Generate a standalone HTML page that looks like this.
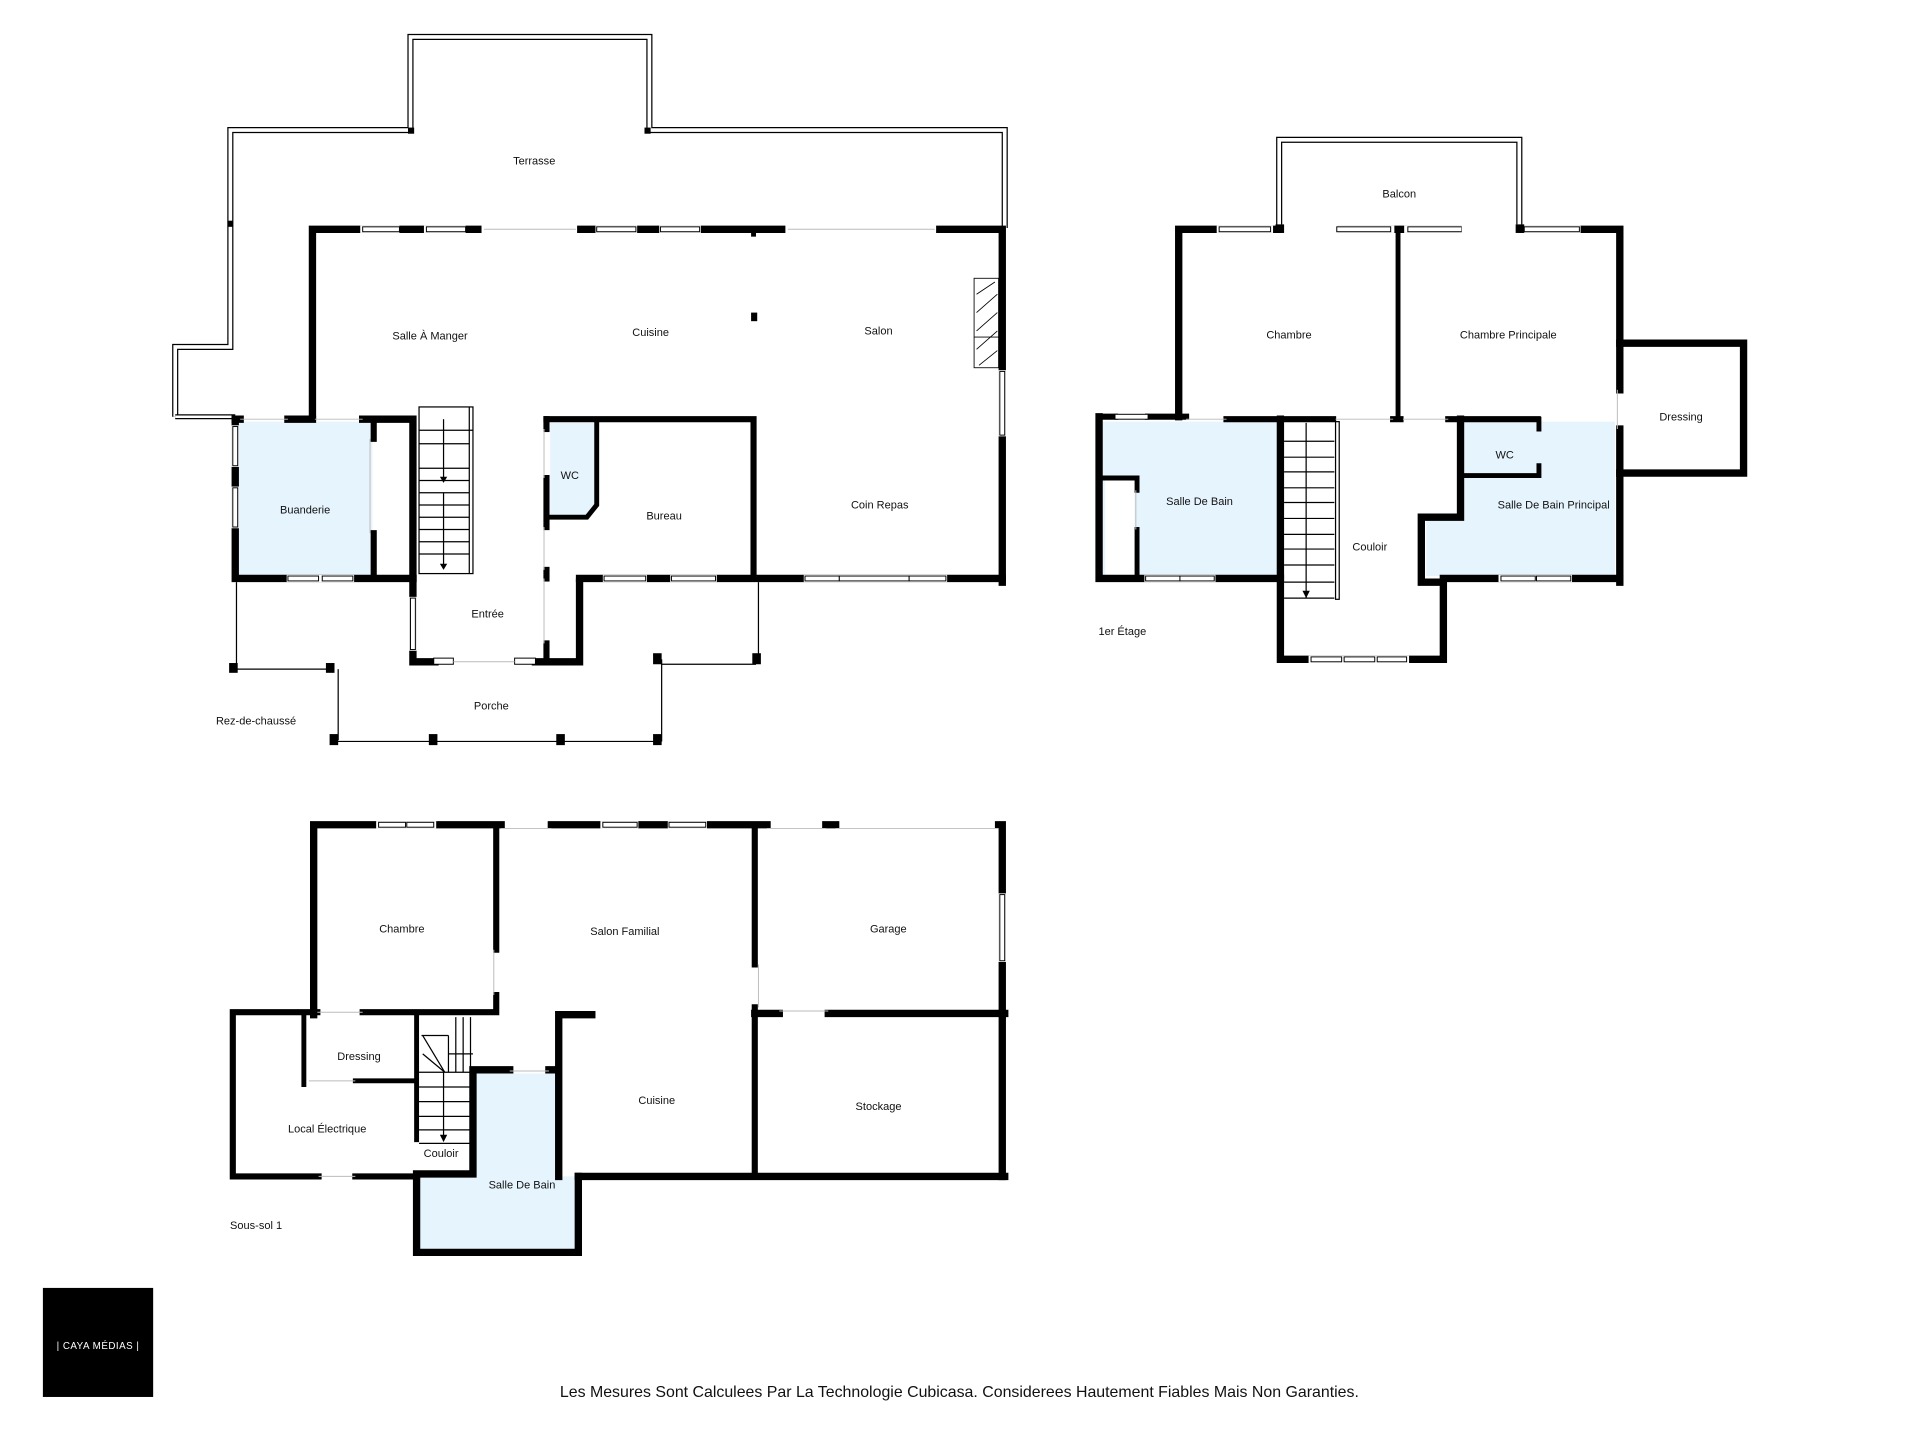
<!DOCTYPE html>
<html><head><meta charset="utf-8"><style>
html,body{margin:0;padding:0;background:#fff;}
svg{display:block;}
text{font-family:"Liberation Sans",sans-serif;font-size:9px;fill:#111;text-anchor:middle;}
.W{stroke:#000;stroke-width:6;stroke-linecap:square;fill:none;}
.T{stroke:#000;stroke-width:1;fill:none;}
.G{stroke:#bbb;stroke-width:0.8;fill:none;}
.win{fill:#fff;stroke:#000;stroke-width:0.8;}
.blue{fill:#e6f4fd;}
</style></head><body>
<svg width="1920" height="1440" viewBox="0 0 1567 1175" xmlns="http://www.w3.org/2000/svg">
<rect width="1567" height="1175" fill="#fff"/>

<path d="M143,340 V283 H188 V106 H335 V30 H530 V106 H820 V186" stroke="#000" stroke-width="5" fill="none"/>
<path d="M143,340 V283 H188 V106 H335 V30 H530 V106 H820 V186" stroke="#fff" stroke-width="3" fill="none"/>
<line x1="143" y1="340" x2="192" y2="340" stroke="#000" stroke-width="4"/>
<line x1="143" y1="340" x2="192" y2="340" stroke="#fff" stroke-width="2"/>
<rect x="333" y="104" width="5" height="5"/><rect x="526" y="104" width="5" height="5"/><rect x="186" y="180" width="4" height="5"/>

<rect class="blue" x="195" y="344" width="109" height="126"/>
<path class="blue" d="M449,345 H485 V412 L477,422 H449 Z"/>

<path class="W" d="M255,340 V187 H818 V475"/>
<rect x="294" y="184" width="32" height="6" fill="#fff"/><rect class="win" x="296" y="185" width="30" height="4"/>
<rect x="346" y="184" width="34" height="6" fill="#fff"/><rect class="win" x="348" y="185" width="32" height="4"/>
<rect x="393" y="183" width="78" height="8" fill="#fff"/><line class="G" x1="395" y1="187" x2="470" y2="187"/>
<rect x="486" y="184" width="34" height="6" fill="#fff"/><rect class="win" x="487" y="185" width="32" height="4"/>
<rect x="538" y="184" width="34" height="6" fill="#fff"/><rect class="win" x="539" y="185" width="32" height="4"/>
<rect x="641" y="183" width="123" height="8" fill="#fff"/><line class="G" x1="643" y1="187" x2="763" y2="187"/>
<rect x="613" y="188" width="4" height="5"/><rect x="613" y="255" width="5" height="7"/>
<rect x="815" y="302" width="6" height="54" fill="#fff"/><rect class="win" x="816" y="303" width="4" height="52"/>
<g stroke="#000" stroke-width="0.7" fill="#fff"><rect x="795" y="227" width="20" height="73"/>
<path d="M797,240 L812,230 M797,255 L814,240 M797,270 L814,255 M797,285 L814,270 M799,298 L814,286"/>
<line x1="795" y1="275" x2="815" y2="275"/></g>

<path class="W" d="M192,342 V472 H337"/>
<path class="W" d="M192,342 H196 M235,342 H255 M296,342 H337 V472"/>
<line class="G" x1="196" y1="342" x2="235" y2="342"/><line class="G" x1="257" y1="342" x2="296" y2="342"/>
<rect x="189" y="347" width="6" height="34" fill="#fff"/><rect class="win" x="190" y="348" width="4" height="32"/>
<rect x="189" y="397" width="6" height="34" fill="#fff"/><rect class="win" x="190" y="398" width="4" height="32"/>
<rect x="234" y="469" width="28" height="6" fill="#fff"/><rect class="win" x="235" y="470" width="25" height="4"/>
<rect x="262" y="469" width="27" height="6" fill="#fff"/><rect class="win" x="263" y="470" width="25" height="4"/>
<line class="W" x1="305" y1="345" x2="305" y2="358" style="stroke-width:5"/>
<line class="W" x1="305" y1="435" x2="305" y2="470" style="stroke-width:5"/>
<line class="G" x1="302" y1="358" x2="302" y2="435"/>

<g class="T" stroke-width="0.7"><rect x="342" y="332" width="44" height="136" fill="#fff"/>
<line x1="342" y1="351" x2="386" y2="351"/><line x1="342" y1="362" x2="383" y2="362"/><line x1="342" y1="382" x2="383" y2="382"/>
<line x1="342" y1="392" x2="383" y2="392"/><line x1="342" y1="402" x2="383" y2="402"/><line x1="342" y1="412" x2="383" y2="412"/>
<line x1="342" y1="422" x2="383" y2="422"/><line x1="342" y1="432" x2="383" y2="432"/><line x1="342" y1="442" x2="383" y2="442"/>
<line x1="342" y1="452" x2="383" y2="452"/><line x1="362" y1="342" x2="362" y2="392"/><line x1="362" y1="402" x2="362" y2="462"/>
<line x1="383" y1="332" x2="383" y2="468"/></g>
<path d="M359,389 L365,389 L362,394 Z M359,460 L365,460 L362,465 Z"/>

<path class="W" d="M337,472 V540 H355 M437,540 H473 V475"/>
<rect x="334" y="487" width="6" height="44" fill="#fff"/><rect class="win" x="335" y="488" width="4" height="42"/>
<rect class="win" x="354" y="537" width="16" height="5"/><rect class="win" x="420" y="537" width="17" height="5"/>
<line class="G" x1="370" y1="540" x2="420" y2="540"/>
<line class="W" x1="446" y1="342" x2="446" y2="350" style="stroke-width:5"/>
<line class="W" x1="446" y1="390" x2="446" y2="430" style="stroke-width:5"/>
<line class="W" x1="446" y1="465" x2="446" y2="472" style="stroke-width:5"/>
<line class="W" x1="446" y1="525" x2="446" y2="540" style="stroke-width:5"/>
<line class="G" x1="444" y1="350" x2="444" y2="390"/><line class="G" x1="444" y1="430" x2="444" y2="465"/><line class="G" x1="444" y1="472" x2="444" y2="525"/>

<path class="W" d="M446,342 H615 V472" style="stroke-width:5"/>
<path class="W" d="M487,342 V412 L479,422 H446" style="stroke-width:4"/>
<path class="W" d="M473,472 H818"/>
<rect x="492" y="469" width="36" height="6" fill="#fff"/><rect class="win" x="493" y="470" width="34" height="4"/>
<rect x="547" y="469" width="38" height="6" fill="#fff"/><rect class="win" x="548" y="470" width="36" height="4"/>
<rect x="656" y="469" width="117" height="6" fill="#fff"/><rect class="win" x="657" y="470" width="28" height="4"/><rect class="win" x="685" y="470" width="57" height="4"/><rect class="win" x="742" y="470" width="30" height="4"/>

<g class="T"><line x1="193" y1="475" x2="193" y2="543"/><line x1="190" y1="546" x2="270" y2="546"/>
<line x1="276" y1="546" x2="276" y2="604"/><line x1="272" y1="605" x2="540" y2="605"/>
<line x1="540" y1="538" x2="540" y2="605"/><line x1="540" y1="542" x2="617" y2="542"/><line x1="619" y1="475" x2="619" y2="538"/></g>
<rect x="187" y="541" width="7" height="8"/><rect x="266" y="541" width="7" height="8"/>
<rect x="269" y="599" width="7" height="9"/><rect x="350" y="599" width="7" height="9"/><rect x="454" y="599" width="7" height="9"/><rect x="533" y="599" width="7" height="9"/>
<rect x="533" y="533" width="7" height="9"/><rect x="614" y="533" width="7" height="9"/>

<text x="436" y="134">Terrasse</text>
<text x="351" y="277">Salle À Manger</text>
<text x="531" y="274">Cuisine</text>
<text x="717" y="273">Salon</text>
<text x="249" y="419">Buanderie</text>
<text x="465" y="391">WC</text>
<text x="542" y="424">Bureau</text>
<text x="718" y="415">Coin Repas</text>
<text x="398" y="504">Entrée</text>
<text x="401" y="579">Porche</text>
<text x="209" y="591">Rez-de-chaussé</text>

<path d="M1044,186 V114 H1240 V186" stroke="#000" stroke-width="5" fill="none"/>
<path d="M1044,186 V114 H1240 V186" stroke="#fff" stroke-width="3" fill="none"/>
<rect class="blue" x="900" y="344" width="143" height="126"/>
<rect class="blue" x="1192" y="344" width="126" height="126"/><rect class="blue" x="1164" y="422" width="30" height="48"/>
<rect x="902" y="390" width="24" height="80" fill="#fff"/>
<path class="W" d="M962,340 V187 H1322 V318 M1322,350 V475"/>
<rect x="993" y="184" width="46" height="6" fill="#fff"/><rect class="win" x="995" y="185" width="42" height="4"/>
<rect x="1046" y="183" width="46" height="8" fill="#fff"/>
<rect x="1090" y="184" width="48" height="6" fill="#fff"/><rect class="win" x="1091" y="185" width="44" height="4"/>
<rect x="1146" y="184" width="48" height="6" fill="#fff"/><rect class="win" x="1149" y="185" width="44" height="4"/>
<rect x="1193" y="183" width="47" height="8" fill="#fff"/>
<rect x="1242" y="184" width="48" height="6" fill="#fff"/><rect class="win" x="1244" y="185" width="45" height="4"/>
<rect x="1041" y="183" width="7" height="7"/><rect x="1237" y="183" width="7" height="7"/>
<line class="W" x1="1141" y1="187" x2="1141" y2="342" style="stroke-width:4"/>
<path class="W" d="M1322,280 H1423 V386 H1322"/>
<path class="W" d="M897,340 V472 H1045"/>
<path class="W" d="M897,340 H910 M937,340 H968 M1001,342 H1088 M1137,342 H1143 M1182,342 H1255" style="stroke-width:5"/>
<line class="G" x1="968" y1="342" x2="1001" y2="342"/><line class="G" x1="1090" y1="342" x2="1137" y2="342"/><line class="G" x1="1145" y1="342" x2="1182" y2="342"/>
<rect class="win" x="910" y="338" width="27" height="4"/>
<rect x="934" y="469" width="58" height="6" fill="#fff"/><rect class="win" x="935" y="470" width="28" height="4"/><rect class="win" x="963" y="470" width="28" height="4"/>
<path class="W" d="M897,390 H928 V400 M928,432 V470" style="stroke-width:4"/>
<line class="G" x1="927" y1="400" x2="927" y2="432"/>
<g class="T" stroke-width="0.6"><line x1="1066" y1="345" x2="1066" y2="488"/>
<line x1="1048" y1="360" x2="1089" y2="360"/><line x1="1048" y1="373" x2="1089" y2="373"/><line x1="1048" y1="385" x2="1089" y2="385"/>
<line x1="1048" y1="398" x2="1089" y2="398"/><line x1="1048" y1="410" x2="1089" y2="410"/><line x1="1048" y1="423" x2="1089" y2="423"/>
<line x1="1048" y1="436" x2="1089" y2="436"/><line x1="1048" y1="448" x2="1089" y2="448"/><line x1="1048" y1="461" x2="1089" y2="461"/>
<line x1="1048" y1="475" x2="1089" y2="475"/><line x1="1048" y1="488" x2="1089" y2="488"/>
<rect x="1090" y="344" width="3" height="145" fill="#fff"/></g>
<path d="M1063,482 L1069,482 L1066,488 Z"/>
<path class="W" d="M1045,342 V538 H1178 V475 H1160 V422 H1192 V342"/>
<rect x="1068" y="535" width="82" height="6" fill="#fff"/><rect class="win" x="1070" y="536" width="25" height="4"/><rect class="win" x="1097" y="536" width="25" height="4"/><rect class="win" x="1124" y="536" width="24" height="4"/>
<path class="W" d="M1178,472 H1322"/>
<rect x="1223" y="469" width="60" height="6" fill="#fff"/><rect class="win" x="1225" y="470" width="28" height="4"/><rect class="win" x="1254" y="470" width="28" height="4"/>
<path class="W" d="M1192,388 H1256 V380 M1256,350 V342" style="stroke-width:4"/>
<line class="G" x1="1320" y1="318" x2="1320" y2="350"/>

<text x="1142" y="161">Balcon</text>
<text x="1052" y="276">Chambre</text>
<text x="1231" y="276">Chambre Principale</text>
<text x="1372" y="343">Dressing</text>
<text x="979" y="412">Salle De Bain</text>
<text x="1228" y="374">WC</text>
<text x="1268" y="415">Salle De Bain Principal</text>
<text x="1118" y="449">Couloir</text>
<text x="916" y="518">1er Étage</text>

<rect class="blue" x="388" y="876" width="66" height="86"/>
<rect class="blue" x="343" y="960" width="126" height="59"/>
<path class="W" d="M256,828 V673 H409 M450,673 H626 M674,673 H682 M815,673 H818 V960"/>
<line class="G" x1="409" y1="676" x2="450" y2="676"/><line class="G" x1="626" y1="676" x2="674" y2="676"/><line class="G" x1="682" y1="676" x2="815" y2="676"/>
<rect x="307" y="670" width="49" height="6" fill="#fff"/><rect class="win" x="309" y="671" width="22" height="4"/><rect class="win" x="332" y="671" width="22" height="4"/>
<rect x="490" y="670" width="31" height="6" fill="#fff"/><rect class="win" x="492" y="671" width="28" height="4"/>
<rect x="545" y="670" width="32" height="6" fill="#fff"/><rect class="win" x="546" y="671" width="30" height="4"/>
<rect x="815" y="729" width="6" height="56" fill="#fff"/><rect class="win" x="816" y="730" width="4" height="54"/>
<path class="W" d="M405,673 V775 M405,812 V826 H296 M259,826 H190 V960 H260 M290,960 H340" style="stroke-width:5"/>
<line class="G" x1="403" y1="775" x2="403" y2="812"/><line class="G" x1="259" y1="826" x2="296" y2="826"/><line class="G" x1="260" y1="960" x2="290" y2="960"/>
<path class="W" d="M616,673 V787 M616,822 V960" style="stroke-width:5"/>
<line class="G" x1="619" y1="787" x2="619" y2="822"/>
<path class="W" d="M616,827 H636 M676,827 H820"/>
<line class="G" x1="636" y1="825" x2="676" y2="825"/>
<path class="W" d="M248,826 V885 M290,882 H340 M340,826 V930" style="stroke-width:4"/>
<line class="G" x1="252" y1="882" x2="290" y2="882"/>
<g class="T" stroke-width="0.6"><line x1="342" y1="875" x2="386" y2="875"/><line x1="342" y1="887" x2="386" y2="887"/>
<line x1="342" y1="899" x2="386" y2="899"/><line x1="342" y1="911" x2="386" y2="911"/><line x1="342" y1="922" x2="386" y2="922"/>
<line x1="342" y1="933" x2="386" y2="933"/><line x1="362" y1="875" x2="362" y2="928"/>
<line x1="363" y1="875" x2="345" y2="845"/><line x1="363" y1="875" x2="345" y2="860"/>
<line x1="366" y1="860" x2="386" y2="860"/><line x1="366" y1="845" x2="366" y2="875"/>
<line x1="372" y1="830" x2="372" y2="875"/><line x1="378" y1="830" x2="378" y2="875"/><line x1="384" y1="830" x2="384" y2="875"/>
<line x1="344" y1="845" x2="366" y2="845"/></g>
<path d="M359,926 L365,926 L362,932 Z"/>
<path class="W" d="M340,958 V1022 H472 V960 M340,958 H386 V873 H416 M448,873 H456 M456,828 V960 M456,828 H483"/>
<line class="G" x1="416" y1="874" x2="448" y2="874"/>
<line class="W" x1="472" y1="960" x2="820" y2="960"/>

<text x="328" y="761">Chambre</text>
<text x="510" y="763">Salon Familial</text>
<text x="725" y="761">Garage</text>
<text x="293" y="865">Dressing</text>
<text x="267" y="924">Local Électrique</text>
<text x="360" y="944">Couloir</text>
<text x="536" y="901">Cuisine</text>
<text x="717" y="906">Stockage</text>
<text x="426" y="970">Salle De Bain</text>
<text x="209" y="1003">Sous-sol 1</text>

<rect x="35" y="1051" width="90" height="89" fill="#000"/>
<text x="80" y="1101" style="fill:#fff;font-size:8px;letter-spacing:0.4px;">| CAYA MÉDIAS |</text>
<text x="783" y="1140" style="font-size:13px;">Les Mesures Sont Calculees Par La Technologie Cubicasa. Considerees Hautement Fiables Mais Non Garanties.</text>
</svg>
</body></html>
